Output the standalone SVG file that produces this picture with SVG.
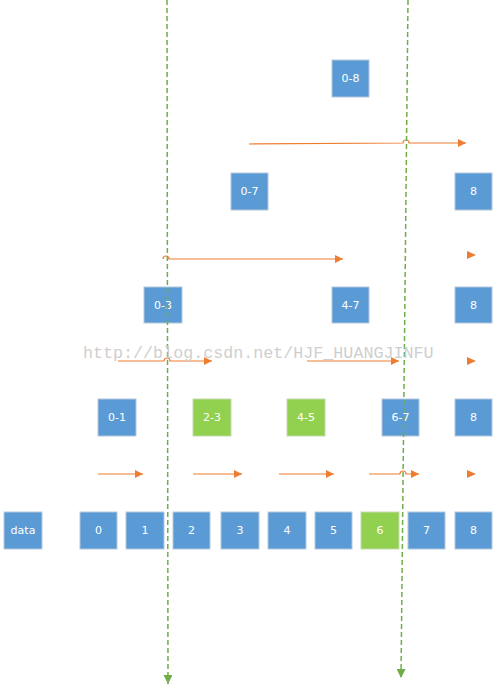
<svg xmlns="http://www.w3.org/2000/svg" width="498" height="686" viewBox="0 0 498 686">
<style>
.b{fill:#5B9BD5;stroke:#B4C7DC;stroke-width:1}
.g{fill:#92D050;stroke:#C5D9B0;stroke-width:1}
.t{fill:#fff;font-family:"DejaVu Sans",Verdana,sans-serif;font-size:11px;text-anchor:middle;dominant-baseline:central}
.a{fill:none;stroke:#ED7D31;stroke-width:1.2}
.h{fill:#ED7D31}
.d{fill:none;stroke:#70AD47;stroke-width:1.5;stroke-dasharray:5,3}
.w{fill:#cfcfcf;font-family:"Liberation Mono",monospace;font-size:16.7px}
</style>
<defs>
<marker id="oa" viewBox="0 0 10 10" refX="10" refY="5" markerWidth="9" markerHeight="8" markerUnits="userSpaceOnUse" orient="auto"><path d="M0,0L10,5L0,10Z" fill="#ED7D31"/></marker>
<marker id="ga" viewBox="0 0 10 10" refX="10" refY="5" markerWidth="9" markerHeight="9" markerUnits="userSpaceOnUse" orient="auto"><path d="M0,0L10,5L0,10Z" fill="#70AD47"/></marker>
</defs>
<g id="n-data"><rect class="b" x="4" y="512" width="38" height="37"/><text class="t" x="23" y="530.5">data</text></g>
<g id="n-0"><rect class="b" x="80" y="512" width="37" height="37"/><text class="t" x="98.5" y="530.5">0</text></g>
<g id="n-1"><rect class="b" x="126" y="512" width="38" height="37"/><text class="t" x="145" y="530.5">1</text></g>
<g id="n-2"><rect class="b" x="173" y="512" width="37" height="37"/><text class="t" x="191.5" y="530.5">2</text></g>
<g id="n-3"><rect class="b" x="221" y="512" width="38" height="37"/><text class="t" x="240" y="530.5">3</text></g>
<g id="n-4"><rect class="b" x="268" y="512" width="38" height="37"/><text class="t" x="287" y="530.5">4</text></g>
<g id="n-5"><rect class="b" x="315" y="512" width="37" height="37"/><text class="t" x="333.5" y="530.5">5</text></g>
<g id="n-6"><rect class="g" x="361" y="512" width="38" height="37"/><text class="t" x="380" y="530.5">6</text></g>
<g id="n-7"><rect class="b" x="408" y="512" width="37" height="37"/><text class="t" x="426.5" y="530.5">7</text></g>
<g id="n-8a"><rect class="b" x="455" y="512" width="37" height="37"/><text class="t" x="473.5" y="530.5">8</text></g>
<g id="n-01"><rect class="b" x="98" y="399" width="38" height="37"/><text class="t" x="117" y="417.5">0-1</text></g>
<g id="n-23"><rect class="g" x="193" y="399" width="38" height="37"/><text class="t" x="212" y="417.5">2-3</text></g>
<g id="n-45"><rect class="g" x="287" y="399" width="38" height="37"/><text class="t" x="306" y="417.5">4-5</text></g>
<g id="n-67"><rect class="b" x="382" y="399" width="37" height="37"/><text class="t" x="400.5" y="417.5">6-7</text></g>
<g id="n-8b"><rect class="b" x="455" y="399" width="37" height="37"/><text class="t" x="473.5" y="417.5">8</text></g>
<g id="n-03"><rect class="b" x="144" y="287" width="38" height="36"/><text class="t" x="163" y="305">0-3</text></g>
<g id="n-47"><rect class="b" x="332" y="287" width="37" height="36"/><text class="t" x="350.5" y="305">4-7</text></g>
<g id="n-8c"><rect class="b" x="455" y="287" width="37" height="36"/><text class="t" x="473.5" y="305">8</text></g>
<g id="n-07"><rect class="b" x="231" y="173" width="37" height="37"/><text class="t" x="249.5" y="191.5">0-7</text></g>
<g id="n-8d"><rect class="b" x="455" y="173" width="37" height="37"/><text class="t" x="473.5" y="191.5">8</text></g>
<g id="n-08"><rect class="b" x="332" y="60" width="37" height="37"/><text class="t" x="350.5" y="78.5">0-8</text></g>
<g id="connectors">
<path class="a" d="M98,474H143" marker-end="url(#oa)"/>
<path class="a" d="M193,474H242" marker-end="url(#oa)"/>
<path class="a" d="M279,474H334" marker-end="url(#oa)"/>
<path class="a" d="M369,474H400a3,3 0 0 1 6,0H419" marker-end="url(#oa)"/>
<path class="h" d="M467,470L476,474L467,478Z"/>
<path class="a" d="M118,361H164a3,3 0 0 1 6,0H212" marker-end="url(#oa)"/>
<path class="a" d="M307,361H399" marker-end="url(#oa)"/>
<path class="h" d="M467,357L476,361L467,365Z"/>
<path class="a" d="M163,259a3,3 0 0 1 6,0H343" marker-end="url(#oa)"/>
<path class="h" d="M467,251L476,255L467,259Z"/>
<path class="a" d="M249,144L403,143a3,3 0 0 1 6,0L466,143" marker-end="url(#oa)"/>
<path class="d" d="M167,0L168,684" marker-end="url(#ga)"/>
<path class="d" d="M408,0L401,678" marker-end="url(#ga)"/>
</g>
<text class="w" x="83" y="358">http://blog.csdn.net/HJF_HUANGJINFU</text>
</svg>
